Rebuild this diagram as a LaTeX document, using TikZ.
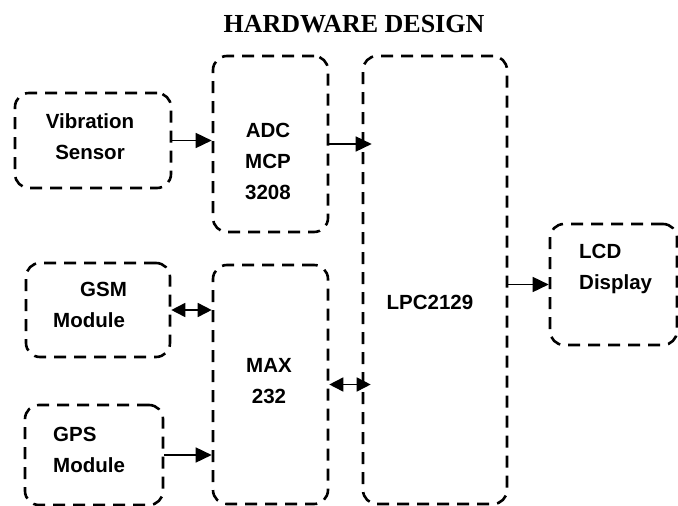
\documentclass[tikz,border=0pt]{standalone}
\usepackage{fontspec}
\newfontfamily\blockfont{Liberation Sans}
\newfontfamily\titlefont{Liberation Serif}
\usetikzlibrary{arrows.meta}

\begin{document}
\begin{tikzpicture}[x=1pt,y=-1pt,
    blk/.style={draw, line width=2.6pt, dash pattern=on 12pt off 8pt,
      rounded corners=14pt, inner sep=0pt},
    lbl/.style={font=\blockfont\fontsize{20.5}{31}\selectfont\bfseries, inner sep=0pt},
    con/.style={line width=1.6pt, -{Triangle[length=16pt,width=15pt]}},
    dcon/.style={line width=1.6pt,
      {Triangle[length=14pt,width=14pt]}-{Triangle[length=14pt,width=14pt]}}]
    \useasboundingbox (0,0) rectangle (678,506);

    % title
    \node[font=\titlefont\fontsize{26}{30}\selectfont\bfseries] (title) at (354,24)
    {HARDWARE DESIGN};

    % blocks
    \node[blk, minimum width=156pt, minimum height=95pt] (vib) at (93,140.5) {};
    \node[blk, minimum width=115pt, minimum height=176pt] (adc) at (270.5,144) {};
    \node[blk, minimum width=144pt, minimum height=448pt] (lpc) at (435,280) {};
    \node[blk, minimum width=127pt, minimum height=121pt] (lcd) at (613.5,284.5) {};
    \node[blk, minimum width=144pt, minimum height=94pt] (gsm) at (98,310) {};
    \node[blk, minimum width=115pt, minimum height=239pt] (max) at (270.5,384.5) {};
    \node[blk, minimum width=138pt, minimum height=100pt] (gps) at (94,455) {};

    % block texts
    \node[lbl, align=center] (vibtxt) at (90,137) {Vibration\\Sensor};
    \node[lbl, align=center] (adctxt) at (268,161) {ADC\\MCP\\3208};
    \node[lbl] (lpctxt) at (430,302) {LPC2129};
    \node[lbl, align=left, anchor=west] (lcdtxt) at (579,269) {LCD\\Display};
    \node[lbl, align=left, anchor=west] (gsmtxt) at (53,305) {\hspace*{27pt}GSM\\Module};
    \node[lbl, align=center] (maxtxt) at (269,381) {MAX\\232};
    \node[lbl, align=left, anchor=west] (gpstxt) at (53,450) {GPS\\Module};

    % connections
    \draw[con] (vib.east) -- (vib.east -| adc.west);
    \draw[con, shorten >=-10pt] (adc.east) -- (adc.east -| lpc.west);
    \draw[dcon] (gsm.east) -- (gsm.east -| max.west);
    \draw[con] (gps.east) -- (gps.east -| max.west);
    \draw[dcon, shorten >=-9pt] (max.east) -- (max.east -| lpc.west);
    \draw[con] (lcd.west -| lpc.east) -- (lcd.west);
  \end{tikzpicture}
\end{document}
